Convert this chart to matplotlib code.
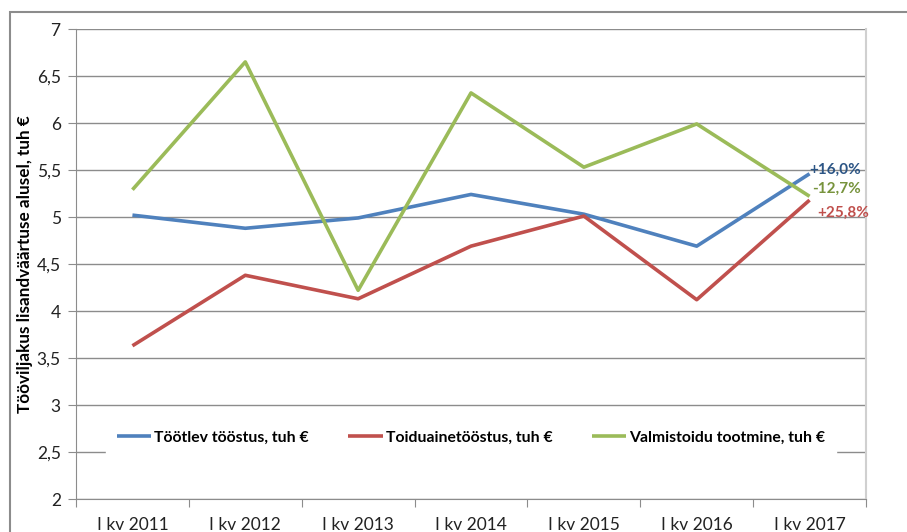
import matplotlib
matplotlib.use("Agg")
import matplotlib.pyplot as plt
from matplotlib.ticker import FuncFormatter, FixedLocator
from matplotlib.patches import Rectangle

categories = ["I kv 2011", "I kv 2012", "I kv 2013", "I kv 2014", "I kv 2015", "I kv 2016", "I kv 2017"]
tootlev = [5.02, 4.88, 4.99, 5.24, 5.03, 4.69, 5.46]
toiduaine = [3.63, 4.38, 4.13, 4.69, 5.01, 4.12, 5.18]
valmistoit = [5.29, 6.65, 4.22, 6.32, 5.53, 5.99, 5.22]
series_names = ["Töötlev tööstus, tuh €", "Toiduainetööstus, tuh €", "Valmistoidu tootmine, tuh €"]
end_labels = ["+16,0%", "+25,8%", "-12,7%"]
y_label = "Tööviljakus lisandväärtuse alusel, tuh €"

colors = ["#4F81BD", "#C0504D", "#9BBB59"]
label_colors = ["#2C5585", "#C0504D", "#77933C"]

plt.rcParams['font.family'] = ['Lato', 'DejaVu Sans']

W, H = 907, 532
fig = plt.figure(figsize=(W / 100, H / 100), dpi=100)
ax = fig.add_axes([76 / W, (H - 499) / H, (866 - 76) / W, (499 - 29) / H])

# outer chart border (cropped at right and bottom)
fig.patches.append(Rectangle((10 / W, -0.05), 1.2, (H - 12) / H + 0.05, transform=fig.transFigure,
                             fill=False, edgecolor="#8C8C8C", linewidth=1.5, clip_on=False))

x = list(range(len(categories)))
for vals, c, name in zip([tootlev, toiduaine, valmistoit], colors, series_names):
    ax.plot(x, vals, color=c, linewidth=2.6, label=name, solid_capstyle="butt", zorder=3)

ax.set_xlim(-0.5, len(categories) - 0.5)
ax.set_ylim(2, 7)
ax.set_yticks([2, 2.5, 3, 3.5, 4, 4.5, 5, 5.5, 6, 6.5, 7])
ax.yaxis.set_major_formatter(FuncFormatter(lambda v, p: ("%g" % v).replace(".", ",")))
ax.grid(axis="y", color="#8C8C8C", linewidth=1.0, zorder=0)

ax.xaxis.set_major_locator(FixedLocator([i - 0.5 for i in range(len(categories) + 1)]))
ax.xaxis.set_minor_locator(FixedLocator(x))
ax.set_xticklabels([""] * (len(categories) + 1))
ax.set_xticklabels(categories, minor=True)
ax.tick_params(axis="x", which="major", length=6, color="#8C8C8C", direction="out")
ax.tick_params(axis="x", which="minor", length=0, pad=13, labelsize=12.5, labelcolor="#222222")
ax.tick_params(axis="y", length=6, color="#8C8C8C", pad=5, labelsize=12.5, labelcolor="#222222")

for s in ["left", "bottom"]:
    ax.spines[s].set_color("#8C8C8C")
ax.spines["top"].set_visible(False)
ax.spines["right"].set_color("#D0D0D0")
ax.spines["right"].set_linewidth(1.5)

ax.set_ylabel(y_label, fontsize=12.3, fontweight="bold")
ax.yaxis.set_label_coords(-0.055, 0.5)

# end labels
ax.text(6.0, 5.50, end_labels[0], color=label_colors[0], fontsize=11, fontweight="bold", ha="left", va="center")
ax.text(6.02, 5.30, end_labels[2], color=label_colors[2], fontsize=11, fontweight="bold", ha="left", va="center")
ax.text(6.07, 5.05, end_labels[1], color=label_colors[1], fontsize=11, fontweight="bold", ha="left", va="center")

leg = ax.legend(loc="center", bbox_to_anchor=(0.5, 0.13), ncol=3, frameon=True, fancybox=False,
                facecolor="white", edgecolor="white", framealpha=1, handlelength=2.2,
                handletextpad=0.2, columnspacing=2.5, borderpad=0.7,
                prop={"family": ["Lato", "DejaVu Sans"], "weight": "bold", "size": 11.3})
leg.set_zorder(5)

fig.savefig("out.png", dpi=100)
